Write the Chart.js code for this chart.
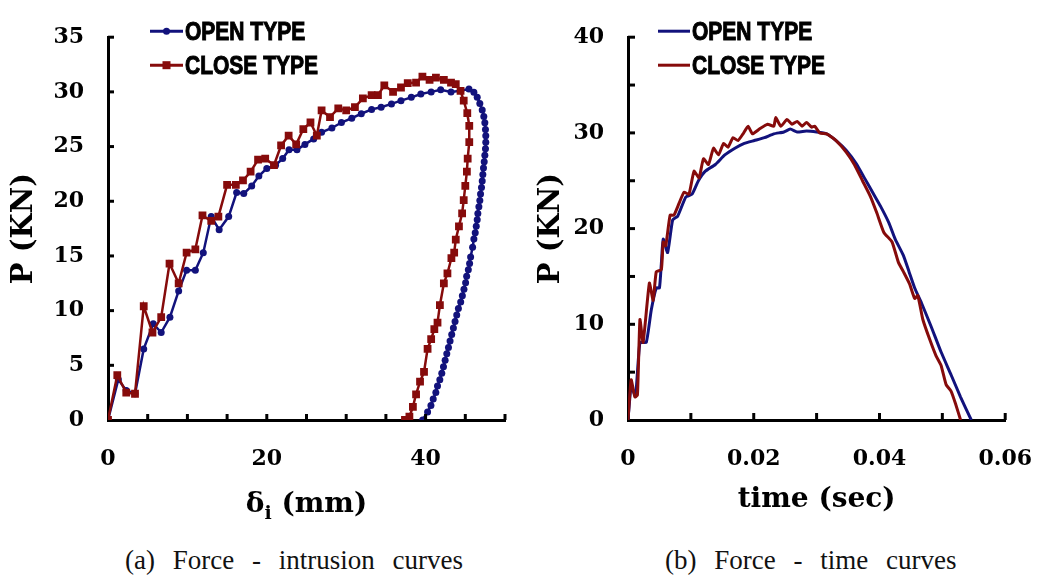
<!DOCTYPE html>
<html>
<head>
<meta charset="utf-8">
<script src="https://cdn.jsdelivr.net/npm/chart.js@4.4.1/dist/chart.umd.min.js"></script>
<style>
  html, body { margin: 0; padding: 0; background: #fff; }
  #wrap { position: relative; width: 1058px; height: 577px; overflow: hidden; }
  .box { position: absolute; top: 0; height: 530px; }
  #boxA { left: 0; width: 520px; }
  #boxB { left: 520px; width: 538px; }
  .cap { position: absolute; top: 541px; font-family: 'Liberation Serif', 'Times New Roman', serif;
         font-size: 27px; line-height: 38px; white-space: pre; word-spacing: 11px; color: #111; }
</style>
</head>
<body>
<div id="wrap">
  <div class="box" id="boxA"><canvas id="chartA" width="520" height="530"></canvas></div>
  <div class="box" id="boxB"><canvas id="chartB" width="538" height="530"></canvas></div>
  <div class="cap" style="left:125px">(a) Force - intrusion curves</div>
  <div class="cap" style="left:665px">(b) Force - time curves</div>
</div>
<script>
// series names
const seriesNames = ['OPEN TYPE', 'CLOSE TYPE'];

// (a) force vs intrusion, [delta_i (mm), P (kN)]
const openIntrusion = [[0,0],[1.3,3.7],[2.3,2.7],[3.4,2.4],[4.5,6.5],[5.7,8.8],[6.7,8.0],[7.8,9.4],[8.9,11.8],
  [9.9,13.7],[11,13.7],[12,15.3],[13,18.6],[14,17.4],[15.2,18.6],[16.2,20.8],[17.1,20.7],[18.1,21.4],[19,22.3],
  [20,23.0],[21.1,23.3],[22,23.9],[22.8,24.7],[23.8,24.7],[24.8,25.2],[25.9,25.7],[26.9,26.3],[28.2,26.7],
  [29.4,27.2],[30.7,27.6],[31.9,28.0],[33.2,28.4],[34.4,28.6],[35.7,28.9],[36.9,29.2],[38.2,29.5],[39.4,29.8],
  [40.7,30.0],[41.9,30.2],[43.2,30.0],[44.4,30.1],[45.46,30.26],[46.08,29.97],[46.5,29.52],[46.83,28.93],
  [47.13,28.34],[47.33,27.75],[47.46,27.17],[47.54,26.57],[47.58,25.98],[47.58,25.39],[47.54,24.8],[47.46,24.21],
  [47.38,23.62],[47.29,23.03],[47.21,22.44],[47.13,21.85],[47.04,21.26],[46.92,20.67],[46.83,20.08],[46.71,19.49],
  [46.58,18.89],[46.5,18.31],[46.38,17.71],[46.25,17.12],[46.08,16.54],[45.92,15.8],[45.67,14.91],[45.54,14.32],
  [45.38,13.73],[45.17,13.14],[45.04,12.55],[44.83,11.96],[44.63,11.37],[44.42,10.78],[44.13,10.19],[43.92,9.6],
  [43.71,9.0],[43.5,8.41],[43.29,7.82],[43.08,7.23],[42.88,6.64],[42.67,6.05],[42.46,5.46],[42.25,4.87],
  [42.04,4.28],[41.79,3.69],[41.5,3.1],[41.29,2.51],[40.96,1.92],[40.67,1.33],[40.25,0.74],[39.63,0]];
const closeIntrusion = [[0,0],[1.17,4.1],[2.3,2.5],[3.4,2.4],[4.5,10.4],[5.6,8.0],[6.7,9.4],[7.75,14.3],[8.9,12.5],
  [9.9,15.3],[11,15.6],[11.9,18.7],[13,18.2],[13.9,18.6],[15,21.5],[16.1,21.5],[17,21.9],[17.96,22.7],[18.9,23.8],
  [19.8,23.9],[20.9,23.3],[21.8,25.1],[22.75,26.0],[23.7,25.2],[24.6,26.6],[25.5,27.2],[26.3,26.0],[26.9,28.3],
  [27.96,27.7],[29,28.5],[30,28.3],[31.1,28.6],[32.1,29.4],[33.2,29.7],[34,29.7],[34.8,30.6],[35.9,30.0],
  [36.9,30.4],[37.75,30.8],[38.8,30.85],[39.6,31.4],[40.5,31.1],[41.3,31.3],[42.3,31.1],[43.2,30.85],[43.8,30.7],
  [44.4,30.1],[44.8,29.2],[45.25,28.05],[45.5,26.9],[45.5,25.4],[45.3,23.9],[45.2,22.7],[45.0,21.4],[44.8,20.1],
  [44.6,18.9],[44.2,17.7],[43.8,16.5],[43.6,15.3],[43.25,14.8],[42.75,13.4],[42.3,12.5],[41.8,10.5],[41.5,8.9],
  [41.1,8.3],[40.7,7.4],[40.25,6.5],[39.8,4.4],[39.3,3.5],[38.8,2.35],[38.4,1.2],[37.96,0.3],[37.4,0]];

// (b) force vs time, [t (sec), P (kN)]
const openTime = [[0,0],[0.0005,3.5],[0.0012,2.5],[0.0019,8.1],[0.0029,8.1],[0.0037,11.5],[0.0045,13.8],[0.005,13.8],
  [0.0053,16.3],[0.0056,18.9],[0.0063,17.5],[0.0071,20.9],[0.0079,21.3],[0.0092,23.3],[0.0102,23.6],[0.0112,25.0],
  [0.0123,26.0],[0.0139,26.7],[0.0154,27.7],[0.017,28.4],[0.0185,28.9],[0.0201,29.2],[0.0217,29.5],[0.0232,29.9],
  [0.0248,30.1],[0.0258,30.4],[0.0269,30.1],[0.0284,30.2],[0.03,30.1],[0.0316,29.9],[0.0331,29.2],[0.0347,28.2],
  [0.0363,26.8],[0.0376,25.3],[0.0389,23.8],[0.0402,22.3],[0.0415,20.6],[0.0425,18.9],[0.0438,17.2],[0.0447,15.5],
  [0.0456,13.8],[0.0467,12.2],[0.0482,9.8],[0.0498,7.1],[0.0514,4.7],[0.0529,2.4],[0.0546,0]];
const closeTime = [[0,0],[0.0005,4.2],[0.0011,2.4],[0.0015,2.6],[0.0019,10.5],[0.0024,8.1],[0.0034,14.3],[0.004,12.5],
  [0.0045,15.5],[0.0053,15.7],[0.0056,18.6],[0.006,18.2],[0.0067,21.4],[0.0073,21.4],[0.0081,22.6],[0.0089,23.8],
  [0.0097,23.6],[0.0105,26.0],[0.0113,25.3],[0.012,27.3],[0.0128,26.7],[0.0136,28.4],[0.0144,27.7],[0.0152,28.9],
  [0.0159,28.5],[0.0167,29.5],[0.0175,29.2],[0.0183,29.9],[0.0191,30.7],[0.0198,29.9],[0.0209,30.4],[0.0222,30.9],
  [0.0232,30.7],[0.0235,31.6],[0.0243,30.7],[0.0253,31.4],[0.0261,30.9],[0.0269,31.2],[0.0277,30.7],[0.0284,31.1],
  [0.0292,30.6],[0.0297,30.7],[0.0305,30.0],[0.0316,29.9],[0.0331,29.2],[0.0347,28.0],[0.036,26.7],[0.0373,25.0],
  [0.0386,23.3],[0.0396,21.6],[0.0407,19.6],[0.042,18.6],[0.043,16.5],[0.0438,15.5],[0.0448,14.2],[0.0456,12.7],
  [0.0461,13.0],[0.0469,10.5],[0.048,8.4],[0.049,6.7],[0.0498,5.7],[0.0506,3.7],[0.0514,3.0],[0.0521,1.7],[0.0529,0]];

// tick marks drawn inside the axes
const marksAX = [5, 10, 15, 20, 25, 30, 35, 40, 45, 50];
const marksAY = [5, 10, 15, 20, 25, 30, 35];
const marksBX = [0.01, 0.02, 0.03, 0.04, 0.05, 0.06];
const marksBY = [5, 10, 15, 20, 25, 30, 35, 40];

const BLUE = '#12127c';
const RED = '#860b0b';
const tickFont = { family: "'DejaVu Serif', serif", size: 22, weight: 'bold' };
const titleFont = "'DejaVu Serif', serif";
const legendFont = "bold 25px 'Liberation Sans', 'DejaVu Sans', sans-serif";

const toPoints = arr => arr.map(p => ({ x: p[0], y: p[1] }));

const innerTicks = {
  id: 'innerTicks',
  afterDraw(chart, args, opts) {
    const ctx = chart.ctx;
    const xs = chart.scales.x, ys = chart.scales.y;
    ctx.save();
    ctx.strokeStyle = '#000';
    ctx.lineWidth = 3;
    opts.xMarks.forEach(v => {
      const px = xs.getPixelForValue(v);
      ctx.beginPath(); ctx.moveTo(px, ys.bottom); ctx.lineTo(px, ys.bottom - opts.len); ctx.stroke();
    });
    opts.yMarks.forEach(v => {
      const py = ys.getPixelForValue(v);
      ctx.beginPath(); ctx.moveTo(xs.left, py); ctx.lineTo(xs.left + opts.len, py); ctx.stroke();
    });
    ctx.restore();
  }
};

const insideLegend = {
  id: 'insideLegend',
  afterDraw(chart, args, opts) {
    const { ctx, chartArea } = chart;
    ctx.save();
    chart.data.datasets.forEach((ds, i) => {
      const y = chartArea.top + opts.rowY[i];
      const x0 = chartArea.left + opts.lineX;
      ctx.strokeStyle = ds.borderColor;
      ctx.lineWidth = 3;
      ctx.beginPath(); ctx.moveTo(x0, y); ctx.lineTo(x0 + opts.lineLen, y); ctx.stroke();
      if (opts.markers) {
        ctx.fillStyle = ds.borderColor;
        const mx = x0 + opts.lineLen / 2;
        if (ds.pointStyle === 'rect') {
          ctx.fillRect(mx - 4, y - 4, 8, 8);
        } else {
          ctx.beginPath(); ctx.arc(mx, y, 3.5, 0, Math.PI * 2); ctx.fill();
        }
      }
      // condensed heavy label
      ctx.save();
      ctx.translate(x0 + opts.lineLen + 2, y + 2);
      ctx.scale(0.84, 1);
      ctx.fillStyle = '#000';
      ctx.strokeStyle = '#000';
      ctx.lineWidth = 1;
      ctx.font = legendFont;
      ctx.textBaseline = 'middle';
      ctx.fillText(ds.label, 0, 0);
      ctx.strokeText(ds.label, 0, 0);
      ctx.restore();
    });
    ctx.restore();
  }
};

// delta_i title with subscript, drawn under the x axis of chart (a)
const deltaTitle = {
  id: 'deltaTitle',
  afterDraw(chart) {
    const { ctx, chartArea } = chart;
    const big = 'bold 28px ' + titleFont, small = 'bold 19px ' + titleFont;
    ctx.save();
    ctx.fillStyle = '#000';
    ctx.textBaseline = 'alphabetic';
    ctx.font = big;
    const w1 = ctx.measureText('δ').width, w3 = ctx.measureText(' (mm)').width;
    ctx.font = small;
    const w2 = ctx.measureText('i').width;
    let x = (chartArea.left + chartArea.right) / 2 - (w1 + w2 + w3) / 2;
    const base = 512;
    ctx.font = big; ctx.fillText('δ', x, base); x += w1;
    ctx.font = small; ctx.fillText('i', x, base + 7); x += w2;
    ctx.font = big; ctx.fillText(' (mm)', x, base);
    ctx.restore();
  }
};

function axisY(max, step, titlePad) {
  return {
    min: 0, max: max,
    ticks: { stepSize: step, padding: 24, color: '#000', font: tickFont },
    grid: { display: false, drawTicks: false },
    border: { display: true, color: '#000', width: 3 },
    title: { display: true, text: 'P (KN)', color: '#000',
             font: { family: titleFont, size: 29, weight: 'bold', lineHeight: 1 },
             padding: { top: titlePad, bottom: 0 } },
    afterFit: s => { s.width = 108; }
  };
}

new Chart(document.getElementById('chartA').getContext('2d'), {
  type: 'line',
  data: {
    datasets: [
      { label: seriesNames[0], data: toPoints(openIntrusion), borderColor: BLUE, backgroundColor: BLUE,
        borderWidth: 2.5, pointStyle: 'circle', pointRadius: 3.5, pointBorderWidth: 0, tension: 0, order: 2 },
      { label: seriesNames[1], data: toPoints(closeIntrusion), borderColor: RED, backgroundColor: RED,
        borderWidth: 2.5, pointStyle: 'rect', pointRadius: 5.5, pointBorderWidth: 0, tension: 0, order: 1 }
    ]
  },
  options: {
    responsive: false,
    animation: false,
    layout: { padding: { top: 25, right: 15, bottom: 0, left: 0 } },
    plugins: {
      legend: { display: false },
      tooltip: { enabled: false },
      innerTicks: { xMarks: marksAX, yMarks: marksAY, len: 6 },
      insideLegend: { lineX: 42, lineLen: 33, rowY: [-6, 28], markers: true }
    },
    scales: {
      x: {
        type: 'linear', min: 0, max: 50,
        ticks: { stepSize: 20, includeBounds: false, padding: 26, color: '#000', font: tickFont },
        grid: { display: false, drawTicks: false },
        border: { display: true, color: '#000', width: 3 },
        afterFit: s => { s.height = 110; }
      },
      y: axisY(35, 5, 10)
    }
  },
  plugins: [innerTicks, insideLegend, deltaTitle]
});

new Chart(document.getElementById('chartB').getContext('2d'), {
  type: 'line',
  data: {
    datasets: [
      { label: seriesNames[0], data: toPoints(openTime), borderColor: BLUE, borderWidth: 3,
        pointRadius: 0, tension: 0.15, order: 2 },
      { label: seriesNames[1], data: toPoints(closeTime), borderColor: RED, borderWidth: 3,
        pointRadius: 0, tension: 0.15, order: 1 }
    ]
  },
  options: {
    responsive: false,
    animation: false,
    layout: { padding: { top: 25, right: 46, bottom: 0, left: 0 } },
    plugins: {
      legend: { display: false },
      tooltip: { enabled: false },
      innerTicks: { xMarks: marksBX, yMarks: marksBY, len: 7 },
      insideLegend: { lineX: 30, lineLen: 32, rowY: [-6, 28], markers: false }
    },
    scales: {
      x: {
        type: 'linear', min: 0, max: 0.06,
        ticks: { stepSize: 0.02, padding: 26, color: '#000', font: tickFont },
        grid: { display: false, drawTicks: false },
        border: { display: true, color: '#000', width: 3 },
        title: { display: true, text: 'time (sec)', color: '#000',
                 font: { family: titleFont, size: 28, weight: 'bold', lineHeight: 1 },
                 padding: { top: 0, bottom: 16 } },
        afterFit: s => { s.height = 110; }
      },
      y: axisY(40, 10, 17)
    }
  },
  plugins: [innerTicks, insideLegend]
});
</script>
</body>
</html>
